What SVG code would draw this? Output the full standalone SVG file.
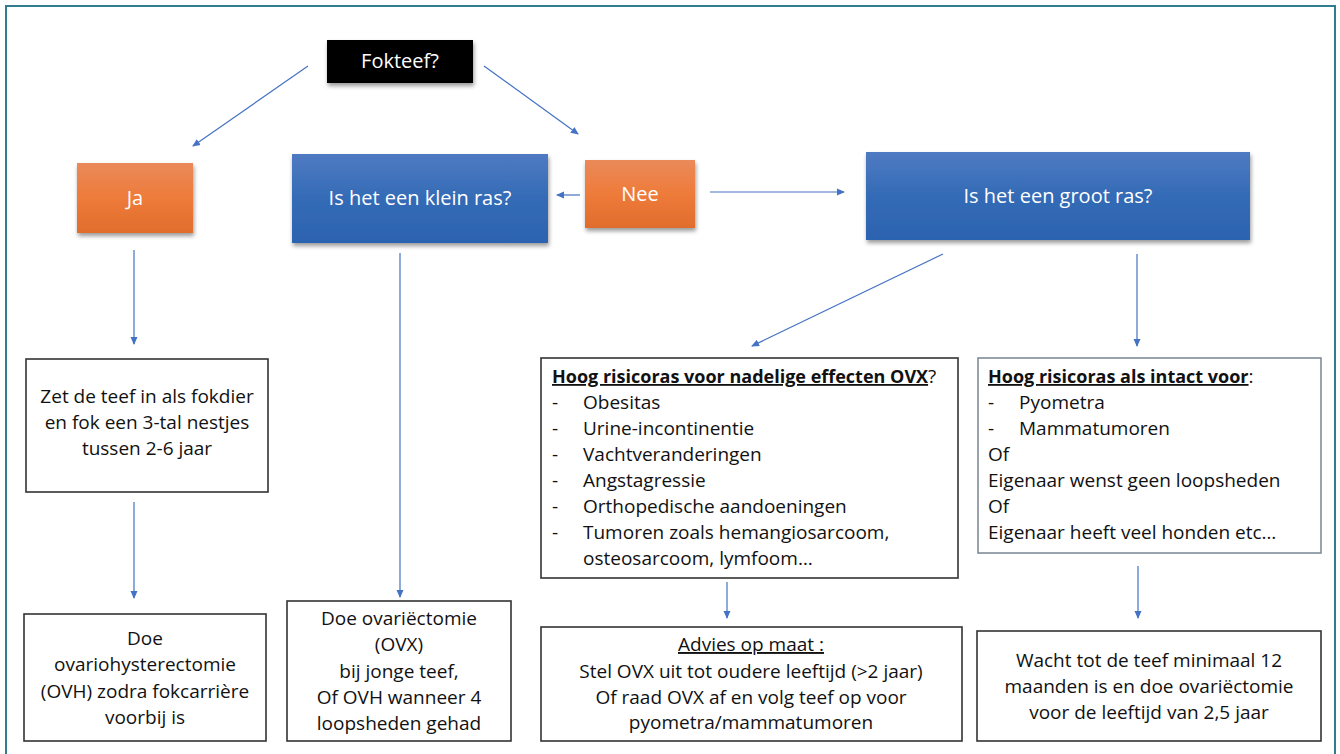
<svg xmlns="http://www.w3.org/2000/svg" width="1340" height="754" viewBox="0 0 1340 754">
<defs>
<style>
text{font-family:"Open Sans","Liberation Sans",sans-serif;font-size:19px;fill:#111}
.c{text-anchor:middle}
.w{fill:#fff;font-size:20px}
.box{fill:#fff;stroke:#333;stroke-width:1.6}
.box2{fill:#fff;stroke:#7f8c99;stroke-width:1.6}
.con{stroke:#4472c4;stroke-width:1.2;fill:none;marker-end:url(#ah)}
.b{font-weight:bold;text-decoration:underline;font-size:18px}
</style>
<marker id="ah" markerWidth="8" markerHeight="8" refX="7" refY="4" orient="auto" markerUnits="userSpaceOnUse">
<path d="M0,0.5 L8,4 L0,7.5 z" fill="#4472c4"/>
</marker>
<linearGradient id="og" x1="0" y1="0" x2="0" y2="1">
<stop offset="0" stop-color="#ea8a5a"/><stop offset="0.5" stop-color="#ee7b3a"/><stop offset="1" stop-color="#e06d2c"/>
</linearGradient>
<linearGradient id="bg" x1="0" y1="0" x2="0" y2="1">
<stop offset="0" stop-color="#4f7ac2"/><stop offset="0.5" stop-color="#346bb6"/><stop offset="1" stop-color="#2c63b0"/>
</linearGradient>
<filter id="sh" x="-10%" y="-10%" width="125%" height="135%">
<feDropShadow dx="1" dy="3" stdDeviation="2" flood-color="#000" flood-opacity="0.4"/>
</filter>
</defs>
<rect width="1340" height="754" fill="#fff"/>
<path d="M6,760 V6 H1335 V760" fill="none" stroke="#2f7d8e" stroke-width="2"/>

<g id="connectors">
<line class="con" x1="308" y1="66" x2="193" y2="146"/>
<line class="con" x1="484" y1="66" x2="578" y2="134"/>
<line class="con" x1="580" y1="195" x2="557" y2="195"/>
<line class="con" x1="710" y1="192" x2="844" y2="192"/>
<line class="con" x1="134" y1="250" x2="134" y2="344"/>
<line class="con" x1="400" y1="253" x2="400" y2="597"/>
<line class="con" x1="134" y1="502" x2="134" y2="598"/>
<line class="con" x1="943" y1="254" x2="752" y2="346"/>
<line class="con" x1="1137" y1="254" x2="1137" y2="346"/>
<line class="con" x1="727" y1="582" x2="727" y2="618"/>
<line class="con" x1="1138" y1="566" x2="1138" y2="618"/>
</g>

<g id="fokteef">
<rect x="327" y="40" width="146" height="43" fill="#000" filter="url(#sh)"/>
<text class="c w" x="400" y="68">Fokteef?</text>
</g>
<g id="ja">
<rect x="77" y="163" width="116" height="70" fill="url(#og)" filter="url(#sh)"/>
<text class="c w" x="135" y="205">Ja</text>
</g>
<g id="klein">
<rect x="292" y="154" width="256" height="89" fill="url(#bg)" filter="url(#sh)"/>
<text class="c w" x="420" y="205">Is het een klein ras?</text>
</g>
<g id="nee">
<rect x="585" y="160" width="110" height="68" fill="url(#og)" filter="url(#sh)"/>
<text class="c w" x="640" y="201">Nee</text>
</g>
<g id="groot">
<rect x="866" y="152" width="384" height="88" fill="url(#bg)" filter="url(#sh)"/>
<text class="c w" x="1058" y="203">Is het een groot ras?</text>
</g>

<g id="zet">
<rect class="box" x="26" y="359" width="242" height="133"/>
<text class="c" x="147" y="403">Zet de teef in als fokdier</text>
<text class="c" x="147" y="429">en fok een 3-tal nestjes</text>
<text class="c" x="147" y="455">tussen 2-6 jaar</text>
</g>
<g id="doe-ovh">
<rect class="box" x="24" y="614" width="242" height="127"/>
<text class="c" x="145" y="645">Doe</text>
<text class="c" x="145" y="671">ovariohysterectomie</text>
<text class="c" x="145" y="698">(OVH) zodra fokcarrière</text>
<text class="c" x="145" y="724">voorbij is</text>
</g>
<g id="doe-ovx">
<rect class="box" x="287" y="601" width="224" height="140"/>
<text class="c" x="399" y="625">Doe ovariëctomie</text>
<text class="c" x="399" y="651">(OVX)</text>
<text class="c" x="399" y="678">bij jonge teef,</text>
<text class="c" x="399" y="704">Of OVH wanneer 4</text>
<text class="c" x="399" y="730">loopsheden gehad</text>
</g>
<g id="risico-ovx">
<rect class="box" x="541" y="358" width="417" height="220"/>
<text x="552" y="383"><tspan class="b">Hoog risicoras voor nadelige effecten OVX</tspan>?</text>
<text x="552" y="409">-</text><text x="583" y="409">Obesitas</text>
<text x="552" y="435">-</text><text x="583" y="435">Urine-incontinentie</text>
<text x="552" y="461">-</text><text x="583" y="461">Vachtveranderingen</text>
<text x="552" y="487">-</text><text x="583" y="487">Angstagressie</text>
<text x="552" y="513">-</text><text x="583" y="513">Orthopedische aandoeningen</text>
<text x="552" y="539">-</text><text x="583" y="539">Tumoren zoals hemangiosarcoom,</text>
<text x="583" y="565">osteosarcoom, lymfoom…</text>
</g>
<g id="advies">
<rect class="box" x="541" y="627" width="421" height="114"/>
<text class="c" x="751" y="651" style="text-decoration:underline">Advies op maat :</text>
<text class="c" x="751" y="678">Stel OVX uit tot oudere leeftijd (&gt;2 jaar)</text>
<text class="c" x="751" y="704">Of raad OVX af en volg teef op voor</text>
<text class="c" x="751" y="729">pyometra/mammatumoren</text>
</g>
<g id="risico-intact">
<rect class="box2" x="978" y="358" width="343" height="195"/>
<text x="988" y="383"><tspan class="b">Hoog risicoras als intact voor</tspan>:</text>
<text x="988" y="409">-</text><text x="1019" y="409">Pyometra</text>
<text x="988" y="435">-</text><text x="1019" y="435">Mammatumoren</text>
<text x="988" y="461">Of</text>
<text x="988" y="487">Eigenaar wenst geen loopsheden</text>
<text x="988" y="513">Of</text>
<text x="988" y="539">Eigenaar heeft veel honden etc…</text>
</g>
<g id="wacht">
<rect class="box" x="977" y="631" width="344" height="110"/>
<text class="c" x="1149" y="667">Wacht tot de teef minimaal 12</text>
<text class="c" x="1149" y="693">maanden is en doe ovariëctomie</text>
<text class="c" x="1149" y="719">voor de leeftijd van 2,5 jaar</text>
</g>
</svg>
